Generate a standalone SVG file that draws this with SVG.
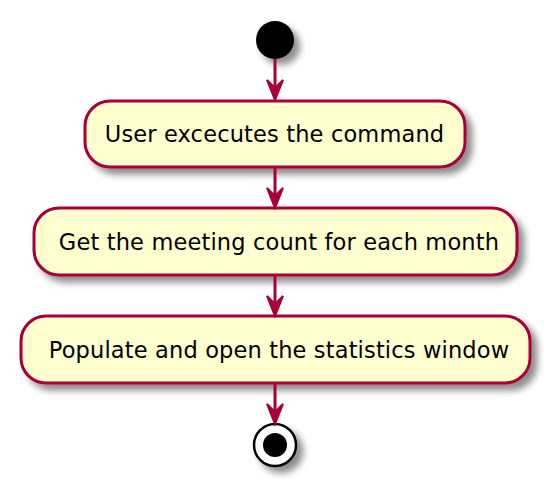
<svg xmlns="http://www.w3.org/2000/svg" width="550" height="488" viewBox="0 0 550 488">
<defs>
<filter id="sh" x="-20%" y="-20%" width="150%" height="160%">
<feGaussianBlur in="SourceAlpha" stdDeviation="3.5"/>
<feOffset dx="6" dy="6" result="b"/>
<feComponentTransfer in="b" result="c"><feFuncA type="linear" slope="0.45"/></feComponentTransfer>
<feMerge><feMergeNode in="c"/><feMergeNode in="SourceGraphic"/></feMerge>
</filter>
</defs>
<style>
.box{fill:#FEFECE;stroke:#A80036;stroke-width:3;filter:url(#sh)}
.lbl{font-family:"DejaVu Sans",Verdana,sans-serif;font-size:22.5px;letter-spacing:0.15px;fill:#000;text-anchor:middle}
.ln{stroke:#A80036;stroke-width:3;fill:none}
.hd{fill:#A80036;stroke:#A80036;stroke-width:2;stroke-linejoin:miter}
</style>
<g id="start"><circle cx="275" cy="40" r="19" fill="#000" filter="url(#sh)"/></g>
<g id="n1"><rect class="box" x="85" y="101" width="380" height="66" rx="25" ry="25"/><text class="lbl" x="274.5" y="142">User excecutes the command</text></g>
<g id="n2"><rect class="box" x="34" y="208" width="483" height="67" rx="25" ry="25"/><text class="lbl" x="279" y="249.5">Get the meeting count for each month</text></g>
<g id="n3"><rect class="box" x="21" y="316" width="509" height="67" rx="25" ry="25"/><text class="lbl" x="279" y="357.5">Populate and open the statistics window</text></g>
<g id="end"><circle cx="275" cy="445" r="21" fill="#fff" stroke="#000" stroke-width="2.5" filter="url(#sh)"/><circle cx="275" cy="445" r="12" fill="#000"/></g>
<g id="connectors">
<path class="ln" d="M275 59 V92"/><path class="hd" d="M267 80 L275 100 L283 80 L275 88 Z"/>
<path class="ln" d="M275 167 V200"/><path class="hd" d="M267 188 L275 208 L283 188 L275 196 Z"/>
<path class="ln" d="M275 275 V308"/><path class="hd" d="M267 296 L275 316 L283 296 L275 304 Z"/>
<path class="ln" d="M275 383 V416"/><path class="hd" d="M267 404 L275 424 L283 404 L275 412 Z"/>
</g>
</svg>
